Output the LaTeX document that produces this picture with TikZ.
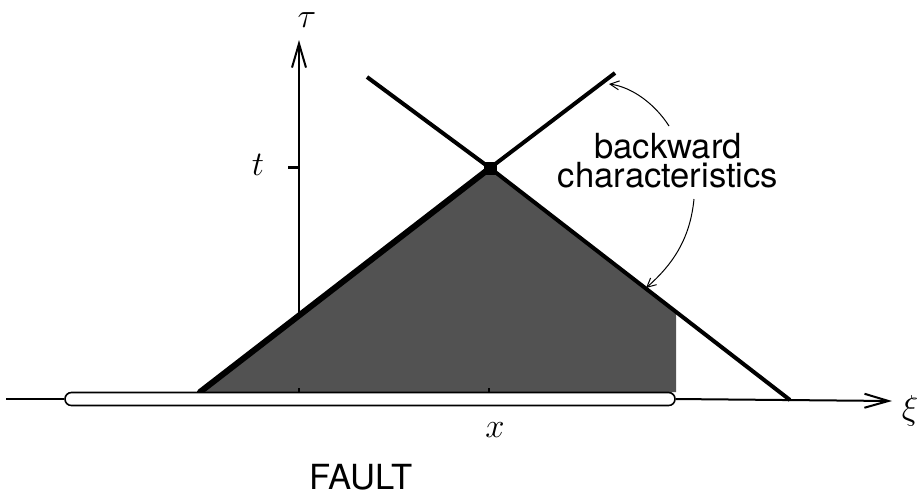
\documentclass[tikz,border=0pt]{standalone}
\usepackage{fontspec}
\setsansfont{TeX Gyre Heros}
\usetikzlibrary{arrows.meta}

\begin{document}
\begin{tikzpicture}[x=0.5pt,y=-0.5pt,
  axis/.style={line width=1pt,-{Straight Barb[length=12pt,width=7pt,line width=1pt]}},
  charline/.style={line width=2pt},
  edge/.style={line width=3pt,line cap=round},
  pointer/.style={line width=0.5pt,-{Straight Barb[length=4.5pt,width=4.5pt,line width=0.5pt]}},
  faultbar/.style={draw,line width=0.8pt,fill=white,rounded corners=3.2pt,
                   minimum width=305pt,minimum height=6.5pt,inner sep=0pt},
  mathlbl/.style={font=\fontsize{18.5}{20}\selectfont},
  textlbl/.style={font=\fontsize{17.3}{14.6}\selectfont\sffamily,align=center}
]
\useasboundingbox (0,0) rectangle (922,495);

\coordinate (apex) at (490,168);
\coordinate (axisL) at (6,399);
\coordinate (axisR) at (892,401);
\coordinate (base) at (299,392);
\coordinate (top) at (299,40);
\coordinate (ulend) at (367,77);
\coordinate (urend) at (615,73);
\coordinate (lrend) at (790,400);
\coordinate (llend) at (200,392);
\coordinate (cut) at (676,312);
\coordinate (cutbase) at (676,392);

% axes
\draw[axis] (base) -- (top);
\draw[line width=1.5pt] (288,167) -- (299,167);

% domain of dependence
\fill[black!68] (llend) -- (apex) -- (cut) -- (cutbase) -- cycle;
\draw[line width=0.8pt] (base) -- ++(0,-4);
\draw[line width=0.8pt] (489,392) -- ++(0,-4);

% characteristics
\draw[charline] (ulend) -- (apex) -- (urend);
\draw[charline] (apex) -- (lrend);
\draw[edge] (llend) -- (apex);
\node[fill=black,minimum size=6.5pt,inner sep=0pt] (pt) at (apex) {};

% fault
\node[faultbar] (fault) at (370,399) {};
\draw[line width=1pt] (axisL) -- (fault.west);
\draw[axis] (fault.east) -- (axisR);

\node[mathlbl] (tau) at (307,20) {$\tau$};
\node[mathlbl] (tlbl) at (258,165) {$t$};
\node[mathlbl] (xlbl) at (495,430) {$x$};
\node[mathlbl] (xi) at (910,411) {$\xi$};
\node[textlbl] (faultlbl) at (361,477) {FAULT};
\node[textlbl] (bc) at (668,161) {backward\\characteristics};

\coordinate (p1) at (669,126);
\coordinate (p1tip) at (609,84);
\coordinate (p2) at (694,199);
\coordinate (p2tip) at (646,288);
\draw[pointer] (p1) .. controls (655,104) and (632,87) .. (p1tip);
\draw[pointer] (p2) .. controls (690,240) and (672,265) .. (p2tip);
\end{tikzpicture}
\end{document}
